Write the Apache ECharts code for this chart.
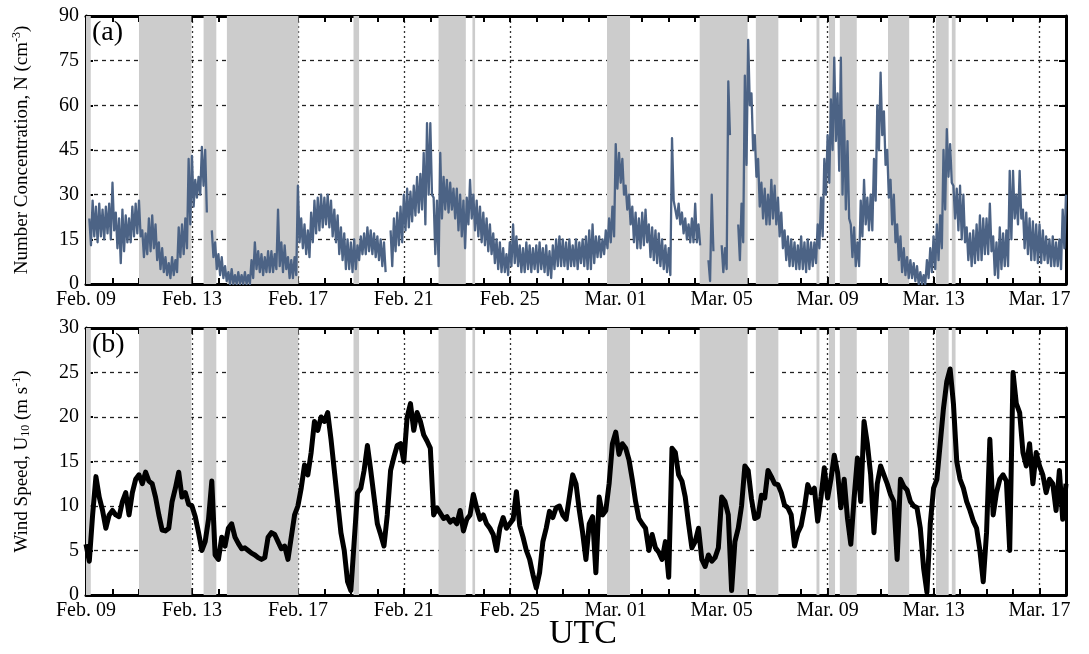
<!DOCTYPE html>
<html>
<head>
<meta charset="utf-8">
<script src="https://cdn.jsdelivr.net/npm/echarts@6/dist/echarts.min.js"></script>
<style>
html,body{margin:0;padding:0;background:#fff;}
#chart{width:1089px;height:654px;}
</style>
</head>
<body>
<div id="chart"></div>
<script>
// ---- Data (3-hourly samples starting Feb. 09 00:00 UTC) ----
const stepHours = 3;
const xTickLabels = ['Feb. 09','Feb. 13','Feb. 17','Feb. 21','Feb. 25','Mar. 01','Mar. 05','Mar. 09','Mar. 13','Mar. 17'];
const yTicksN = [0, 15, 30, 45, 60, 75, 90];
const yTicksU = [0, 5, 10, 15, 20, 25, 30];

// Number concentration N (cm^-3): upper and lower edge of the noisy trace in each 3-h slot
const nBandTop = [
  null,22,28,26,27,25,26,27,
  34,24,22,25,23,22,26,27,
  28,18,17,22,23,20,14,12,
  9,7,9,8,19,20,22,42,
  43,35,36,46,45,null,18,14,
  10,9,6,4,5,3,4,3,
  4,3,8,14,11,10,9,11,
  11,10,25,14,13,9,8,9,
  33,22,20,18,24,28,29,30,
  29,30,28,25,23,19,17,15,
  14,15,13,16,17,19,18,17,
  16,15,14,null,18,22,24,26,
  30,32,31,33,36,37,44,54,
  54,29,28,44,36,35,34,32,
  32,30,28,29,35,30,28,26,
  24,22,20,17,15,14,12,10,
  14,20,16,13,12,14,13,12,
  13,14,12,13,11,13,15,16,
  15,14,15,13,15,14,15,16,
  18,20,16,16,15,18,22,26,
  47,44,42,33,30,26,24,22,
  24,25,20,19,18,17,15,13,
  12,49,28,27,24,22,20,22,
  27,20,null,null,8,30,null,null,
  13,12,68,null,null,20,27,70,
  82,64,50,42,34,32,30,35,
  33,29,24,18,16,15,14,13,
  16,14,15,14,14,20,29,42,
  50,62,76,64,76,55,48,20,
  19,14,28,35,29,30,42,60,
  71,58,45,35,30,20,16,12,
  9,8,7,6,4,3,8,12,
  16,20,23,45,52,47,33,32,
  33,30,19,17,18,20,23,22,
  22,27,16,14,19,17,18,38,
  38,30,38,25,24,22,21,20,
  20,18,16,15,16,14,15,25,
  30
];
const nBandBottom = [
  null,13,16,14,16,15,17,15,
  18,12,7,11,14,14,16,17,
  16,9,10,11,12,8,5,4,
  3,2,3,4,9,10,12,20,
  26,29,30,33,24,null,9,5,
  3,2,1,0,0,0,0,0,
  0,0,2,5,4,3,4,4,
  4,5,6,4,5,2,2,3,
  14,12,10,9,14,17,18,19,
  20,19,16,14,10,8,5,5,
  4,5,8,10,10,11,10,9,
  8,6,4,null,6,11,13,14,
  18,19,21,23,24,25,20,30,
  30,10,6,22,25,24,25,22,
  18,16,12,20,22,18,16,14,
  13,11,10,7,5,4,4,3,
  6,7,6,4,4,5,4,5,
  4,5,4,3,2,5,6,6,
  6,5,6,6,5,7,6,5,
  5,7,9,9,10,12,14,16,
  32,34,30,25,20,14,12,12,
  13,14,9,8,7,6,5,4,
  3,28,22,20,17,15,14,14,
  14,13,null,null,1,11,null,null,
  4,5,50,null,null,8,14,40,
  60,45,36,26,22,20,20,22,
  20,16,12,8,6,6,5,5,
  5,4,5,6,7,12,16,30,
  34,45,48,38,30,25,22,9,
  6,6,16,20,18,18,28,45,
  50,40,29,20,14,8,4,3,
  2,2,1,0,0,0,2,4,
  5,8,12,25,36,34,22,18,
  15,14,8,6,7,8,8,10,
  10,11,3,2,5,6,6,15,
  22,20,22,12,10,8,8,7,
  7,8,7,6,6,6,5,12,
  15
];

// Wind speed U10 (m s^-1)
const windSpeed = [
  5.7,3.8,9,13.3,11,9.5,7.5,9,
  9.5,9,8.8,10.5,11.5,9,11.5,13,
  13.5,12.5,13.8,12.8,12.5,11,9,7.3,
  7.2,7.5,10.5,12,13.8,11,11.5,10.2,
  10,8.8,7,5,6,8.5,12.8,4.5,
  4,6.5,5.5,7.5,8,6.5,5.8,5.2,
  5.3,5,4.7,4.5,4.2,4,4.2,6.5,
  7,6.8,6,5.2,5.5,4,6.5,9,
  10,12,14.6,13.5,16,19.5,18.5,20,
  19.5,20.5,17.5,14,10.5,7,5,1.5,
  0.5,6,11.5,12,14,16.8,14,11,
  8,6.8,5.5,9,14,15.5,16.8,17,
  15,20,21.5,18.5,20.5,19.5,18,17.3,
  16.5,9,9.8,9.2,8.6,8.8,8.2,8.5,
  8,9.5,7.2,8.5,9,11.3,9.8,8.5,
  9,8,7.5,6.8,5,7.5,8.7,7.5,
  8,8.5,11.6,7.8,6.5,5,4,2.3,
  0.8,2.5,6,7.5,9.4,8.7,9.8,10,
  9,8.5,11,13.5,12.5,9.5,7,4,
  8,8.8,2.5,11,9,9.5,12.5,17,
  18.3,15.8,17,16.5,15.2,13,10.5,8.6,
  8,7.5,5,6.8,5.3,4.8,4,6,
  2,16.5,16,13.5,12.8,11,8,5.3,
  6,7.5,4,3.2,4.5,3.8,4.2,5.3,
  11,10.5,9,0.5,6,7.5,10,14.5,
  14,10.8,8.6,8.8,11.2,10.9,14,13.3,
  12.5,12.4,11.5,10.1,9.8,9,5.5,7,
  7.8,9.8,12.4,11.5,12,8.3,11,14.3,
  10.9,13,15.7,13.8,9.8,13,8.6,5.7,
  10.9,15.4,10.5,19.5,17,13.5,7,12.5,
  14.5,13.5,12.5,11.3,10.5,4,13,12.2,
  11.8,10.5,10,9.8,7.5,3,0.3,8,
  12,13,17,21,24,25.4,21.5,15,
  13,12,10.5,9.5,8.3,7.5,5,1.5,
  7,17.5,9,11.5,13,13.5,12.8,5,
  25,21.5,20.5,16,14.5,17,12.5,16,
  14.5,13.5,11.5,13,12.5,9.5,14,8.5,
  12.5
];

// Shaded periods, in days since Feb. 09 00:00 UTC
const shadedPeriods = [
  [0,0.18],[2.0,3.98],[4.44,4.92],[5.32,8.02],[10.1,10.31],[13.31,14.34],[14.59,14.69],
  [19.67,20.54],[23.17,24.98],[25.29,26.14],[27.58,27.69],[28.05,28.28],[28.46,29.1],
  [30.28,31.08],[32.09,32.57],[32.69,32.83]
];

// ---- Chart ----
const FONT = 'Liberation Serif';
const stepDays = stepHours / 24;
const toPairs = arr => arr.map((v, i) => [i * stepDays, v]);
// Noisy trace: top edge at the start of each slot, bottom edge half a slot later
const bandTrace = (top, bottom) => {
  const out = [];
  top.forEach((v, i) => {
    out.push([i * stepDays, v]);
    if (i < top.length - 1) out.push([(i + 0.5) * stepDays, bottom[i]]);
  });
  return out;
};
const dayMax = 37;

function xAxes(gi) {
  return [
    { type: 'value', gridIndex: gi, min: 0, max: dayMax, interval: 4, position: 'bottom',
      axisLine: { show: true, onZero: false, lineStyle: { color: '#000', width: 3 } },
      axisTick: { show: true, inside: true, length: 7, lineStyle: { color: '#000', width: 2 } },
      axisLabel: { show: true, margin: 6, color: '#000', fontFamily: FONT, fontSize: 20,
        formatter: v => (v % 4 === 0 && xTickLabels[v / 4] !== undefined) ? xTickLabels[v / 4] : '' },
      splitLine: { show: true, lineStyle: { color: '#333', width: 1.3, type: [2, 3] } } },
    { type: 'value', gridIndex: gi, min: 0, max: dayMax, interval: 1, position: 'top',
      axisLine: { show: true, onZero: false, lineStyle: { color: '#000', width: 3 } },
      axisTick: { show: true, inside: true, length: 6, lineStyle: { color: '#000', width: 2 } },
      axisLabel: { show: false }, splitLine: { show: false } },
    { type: 'value', gridIndex: gi, min: 0, max: dayMax, interval: 1, position: 'bottom',
      axisLine: { show: false, onZero: false },
      axisTick: { show: true, inside: true, length: 6, lineStyle: { color: '#000', width: 2 } },
      axisLabel: { show: false }, splitLine: { show: false } }
  ];
}

function yAxes(gi, ticks, name) {
  const mn = ticks[0], mx = ticks[ticks.length - 1], iv = ticks[1] - ticks[0];
  return [
    { type: 'value', gridIndex: gi, min: mn, max: mx, interval: iv, position: 'left',
      axisLine: { show: true, onZero: false, lineStyle: { color: '#000', width: 3 } },
      axisTick: { show: true, inside: true, length: 7, lineStyle: { color: '#000', width: 2 } },
      axisLabel: { show: true, margin: 7, color: '#000', fontFamily: FONT, fontSize: 20 },
      splitLine: { show: true, lineStyle: { color: '#222', width: 1.3, type: [4, 4] } },
      name: name, nameLocation: 'middle', nameGap: 52, nameRotate: 90,
      nameTextStyle: { color: '#000', fontFamily: FONT, fontSize: 19,
        rich: {
          t: { fontFamily: FONT, fontSize: 19, color: '#000' },
          sup: { fontFamily: FONT, fontSize: 12, color: '#000', padding: [0, 0, 11, 0] },
          sub: { fontFamily: FONT, fontSize: 12, color: '#000', padding: [7, 0, 0, 0] }
        } } },
    { type: 'value', gridIndex: gi, min: mn, max: mx, interval: iv, position: 'right',
      axisLine: { show: true, onZero: false, lineStyle: { color: '#000', width: 3 } },
      axisTick: { show: true, inside: true, length: 7, lineStyle: { color: '#000', width: 2 } },
      axisLabel: { show: false }, splitLine: { show: false } }
  ];
}

const shadeData = shadedPeriods.map(p => [{ xAxis: p[0] }, { xAxis: p[1] }]);

const chart = echarts.init(document.getElementById('chart'), null, { renderer: 'canvas' });
chart.setOption({
  animation: false,
  backgroundColor: '#fff',
  grid: [
    { left: 86, right: 23, top: 16, height: 268 },
    { left: 86, right: 23, top: 328, height: 267 }
  ],
  xAxis: [].concat(xAxes(0), xAxes(1)),
  yAxis: [].concat(
    yAxes(0, yTicksN, '{t|Number Concentration, N (cm}{sup|-3}{t|)}'),
    yAxes(1, yTicksU, '{t|Wind Speed, U}{sub|10}{t| (m s}{sup|-1}{t|)}')
  ),
  series: [
    { type: 'line', xAxisIndex: 0, yAxisIndex: 0, data: [], z: -1, silent: true,
      markArea: { silent: true, itemStyle: { color: '#cccccc' }, data: shadeData } },
    { type: 'line', xAxisIndex: 3, yAxisIndex: 2, data: [], z: -1, silent: true,
      markArea: { silent: true, itemStyle: { color: '#cccccc' }, data: shadeData } },
    { type: 'line', name: 'N', xAxisIndex: 0, yAxisIndex: 0, data: bandTrace(nBandTop, nBandBottom),
      showSymbol: false, connectNulls: false, z: 3,
      lineStyle: { color: '#4c6385', width: 2.3, join: 'round' } },
    { type: 'line', name: 'U10', xAxisIndex: 3, yAxisIndex: 2, data: toPairs(windSpeed),
      showSymbol: false, z: 3,
      lineStyle: { color: '#000', width: 5, join: 'round' } }
  ],
  graphic: [
    { type: 'text', left: 92, top: 19, style: { text: '(a)', fontFamily: FONT, fontSize: 28, fill: '#000' } },
    { type: 'text', left: 92, top: 331, style: { text: '(b)', fontFamily: FONT, fontSize: 28, fill: '#000' } },
    { type: 'text', x: 583, y: 634, style: { text: 'UTC', fontFamily: FONT, fontSize: 34, fill: '#000', align: 'center', verticalAlign: 'middle' } }
  ]
});
</script>
</body>
</html>
